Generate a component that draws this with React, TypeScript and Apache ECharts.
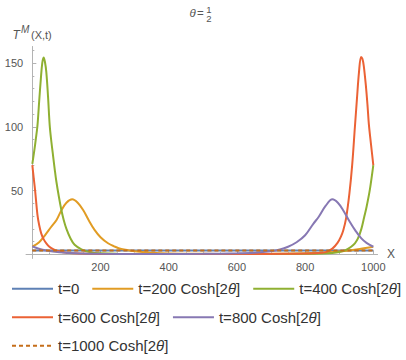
import React, { useEffect, useRef } from "react";
import * as echarts from "echarts";

// ---- data ----
const T0_X = [0, 250, 500, 750, 1000];
const T0_Y = [3, 3, 3, 3, 3];

const T200_X = [0, 20, 37, 55, 71, 85, 100, 117, 133, 149, 165, 183, 200, 222, 240, 261, 300, 350, 400, 500, 600, 700, 800, 850, 900, 930, 960, 1000];
const T200_Y = [6, 9.5, 15, 21.5, 27, 34.5, 40.5, 43.2, 40.5, 34.8, 27, 19, 13.5, 8.7, 6.3, 4.2, 2.5, 1.3, 0.7, 0.4, 0.3, 0.4, 0.8, 1.3, 2.3, 3.1, 4.2, 6];

const T400_X = [0, 6, 10, 15, 20, 25, 29, 33, 37, 41, 46, 51, 56, 61, 66, 70, 78, 85, 92, 100, 112, 124, 144, 170, 200, 250, 400, 600, 800, 850, 880, 900, 920, 935, 946, 955, 965, 973, 980, 990, 1000];
const T400_Y = [71, 82, 90, 101, 120, 138, 150, 154.5, 151, 143, 124, 101, 88, 77, 66, 58, 45, 35, 27, 20, 12.5, 7.5, 4, 1.7, 0.8, 0.4, 0.3, 0.3, 0.4, 0.6, 1, 1.8, 3.5, 6, 8.7, 12.5, 20, 29, 37, 51, 70];

const T600_X = [0, 4, 8, 15, 20, 26, 33, 41, 50, 61, 75, 90, 120, 200, 400, 600, 750, 800, 840, 863, 880, 895, 905, 912, 920, 930, 938, 946, 952, 958, 964, 968, 972, 978, 983, 987, 993, 1000];
const T600_Y = [70, 60, 50.5, 31, 23, 16.5, 12, 8.7, 6, 4.2, 2.6, 1.7, 0.8, 0.35, 0.3, 0.3, 0.4, 0.6, 1, 2, 4.5, 9, 14, 19, 28, 48, 70, 100, 122, 143, 155, 153.5, 148, 133, 117, 102, 87, 70];

const T800_X = [0, 15, 30, 60, 100, 150, 200, 300, 400, 500, 600, 650, 700, 726, 750, 775, 800, 824, 840, 860, 880, 896, 912, 930, 948, 965, 980, 1000];
const T800_Y = [6.3, 4.8, 3.6, 2.2, 1.2, 0.7, 0.4, 0.3, 0.3, 0.4, 0.8, 1.3, 2.5, 3.8, 6, 9.5, 15, 24, 29.5, 38, 43.2, 40.5, 34.5, 26, 18.5, 12.5, 9, 6];

const T1000_X = [0, 250, 500, 750, 1000];
const T1000_Y = [3, 3, 3, 3, 3];

const SERIES_NAMES = [
  "t=0",
  "t=200 Cosh[2θ]",
  "t=400 Cosh[2θ]",
  "t=600 Cosh[2θ]",
  "t=800 Cosh[2θ]",
  "t=1000 Cosh[2θ]",
];
const COLORS = ["#5E81B5", "#E19C24", "#8FB032", "#EB6235", "#8778B3", "#C56E1A"];

const X_MAJOR = [200, 400, 600, 800, 1000];
const X_MINOR = [50, 100, 150, 250, 300, 350, 450, 500, 550, 650, 700, 750, 850, 900, 950];
const Y_MAJOR = [50, 100, 150];
const Y_MINOR = [10, 20, 30, 40, 60, 70, 80, 90, 110, 120, 130, 140, 160];

const zip = (xs: number[], ys: number[]) => xs.map((x, i) => [x, ys[i]]);

const FONT = "Arial, 'Liberation Sans', sans-serif";
const AXIS_COLOR = "#b3b3b3";
const LABEL_COLOR = "#555555";

export default function App() {
  const ref = useRef<HTMLDivElement>(null);

  useEffect(() => {
    if (!ref.current) return;
    const chart = echarts.init(ref.current, undefined, { renderer: "svg" });

    const datasets = [
      zip(T0_X, T0_Y),
      zip(T200_X, T200_Y),
      zip(T400_X, T400_Y),
      zip(T600_X, T600_Y),
      zip(T800_X, T800_Y),
      zip(T1000_X, T1000_Y),
    ];

    const axisBase = {
      type: "value" as const,
      splitLine: { show: false },
    };
    const plain = (v: number) => String(v);

    chart.setOption({
      animation: false,
      grid: {
        left: 26.2,
        right: 28.6,
        top: 46.7,
        bottom: 101.8,
        containLabel: false,
        outerBoundsMode: "none",
      },
      xAxis: [
        {
          ...axisBase,
          min: -18,
          max: 1012,
          position: "bottom",
          axisLine: { onZero: true, lineStyle: { color: AXIS_COLOR, width: 1 } },
          axisTick: { inside: true, length: 4, customValues: X_MAJOR, lineStyle: { color: AXIS_COLOR } },
          axisLabel: {
            customValues: X_MAJOR,
            formatter: plain,
            margin: 3,
            color: LABEL_COLOR,
            fontSize: 11,
            fontFamily: FONT,
          },
        },
        {
          ...axisBase,
          min: -18,
          max: 1012,
          position: "bottom",
          axisLine: { onZero: true, lineStyle: { color: AXIS_COLOR, width: 1 } },
          axisTick: { inside: true, length: 2, customValues: X_MINOR, lineStyle: { color: AXIS_COLOR } },
          axisLabel: { show: false },
        },
      ],
      yAxis: [
        {
          ...axisBase,
          min: -3,
          max: 163,
          position: "left",
          axisLine: { onZero: true, lineStyle: { color: AXIS_COLOR, width: 1 } },
          axisTick: { inside: true, length: 4, customValues: Y_MAJOR, lineStyle: { color: AXIS_COLOR } },
          axisLabel: {
            customValues: Y_MAJOR,
            formatter: plain,
            margin: 3,
            color: LABEL_COLOR,
            fontSize: 11,
            fontFamily: FONT,
          },
        },
        {
          ...axisBase,
          min: -3,
          max: 163,
          position: "left",
          axisLine: { onZero: true, lineStyle: { color: AXIS_COLOR, width: 1 } },
          axisTick: { inside: true, length: 2, customValues: Y_MINOR, lineStyle: { color: AXIS_COLOR } },
          axisLabel: { show: false },
        },
      ],
      legend: {
        left: 6,
        top: 275.5,
        width: 400,
        itemWidth: 41,
        itemHeight: 14,
        itemGap: 12,
        data: SERIES_NAMES,
        itemStyle: { opacity: 0 },
        formatter: (name: string) => name.replace("θ", "{i|θ}"),
        textStyle: {
          color: "#333333",
          fontSize: 15,
          fontFamily: FONT,
          lineHeight: 16.5,
          rich: {
            i: { fontStyle: "italic", fontSize: 15, fontFamily: FONT, color: "#333333", lineHeight: 16.5 },
          },
        },
      },
      series: datasets.map((d, i) => ({
        name: SERIES_NAMES[i],
        type: "line",
        data: d,
        xAxisIndex: 0,
        yAxisIndex: 0,
        symbol: "none",
        showSymbol: false,
        smooth: 0.35,
        clip: true,
        color: COLORS[i],
        lineStyle: {
          color: COLORS[i],
          width: 2,
          type: i === 5 ? [4, 3] : "solid",
        },
        z: 2 + i,
      })),
      graphic: [
        {
          type: "text",
          x: 189.5,
          y: 13,
          style: { text: "θ", fill: LABEL_COLOR, fontSize: 11.5, fontFamily: FONT, fontStyle: "italic", align: "left", verticalAlign: "middle" },
        },
        {
          type: "text",
          x: 197,
          y: 13,
          style: { text: "=", fill: LABEL_COLOR, fontSize: 11.5, fontFamily: FONT, align: "left", verticalAlign: "middle" },
        },
        {
          type: "text",
          x: 209,
          y: 9.3,
          style: { text: "1", fill: LABEL_COLOR, fontSize: 9.5, fontFamily: FONT, align: "center", verticalAlign: "middle" },
        },
        {
          type: "text",
          x: 209,
          y: 18.8,
          style: { text: "2", fill: LABEL_COLOR, fontSize: 9.5, fontFamily: FONT, align: "center", verticalAlign: "middle" },
        },
        {
          type: "text",
          x: 12.5,
          y: 34.5,
          style: { text: "T", fill: LABEL_COLOR, fontSize: 12, fontFamily: FONT, fontStyle: "italic", align: "left", verticalAlign: "middle" },
        },
        {
          type: "text",
          x: 21,
          y: 29,
          style: { text: "M", fill: LABEL_COLOR, fontSize: 10, fontFamily: FONT, fontStyle: "italic", align: "left", verticalAlign: "middle" },
        },
        {
          type: "text",
          x: 31,
          y: 34.5,
          style: { text: "(X,t)", fill: LABEL_COLOR, fontSize: 11, fontFamily: FONT, align: "left", verticalAlign: "middle" },
        },
        {
          type: "text",
          x: 391,
          y: 254,
          style: { text: "X", fill: LABEL_COLOR, fontSize: 12, fontFamily: FONT, align: "center", verticalAlign: "middle" },
        },
      ],
    });

    return () => {
      chart.dispose();
    };
  }, []);

  return (
    <div
      ref={ref}
      style={{ position: "absolute", left: 0, top: 0, width: 406, height: 360, background: "#ffffff" }}
    />
  );
}
